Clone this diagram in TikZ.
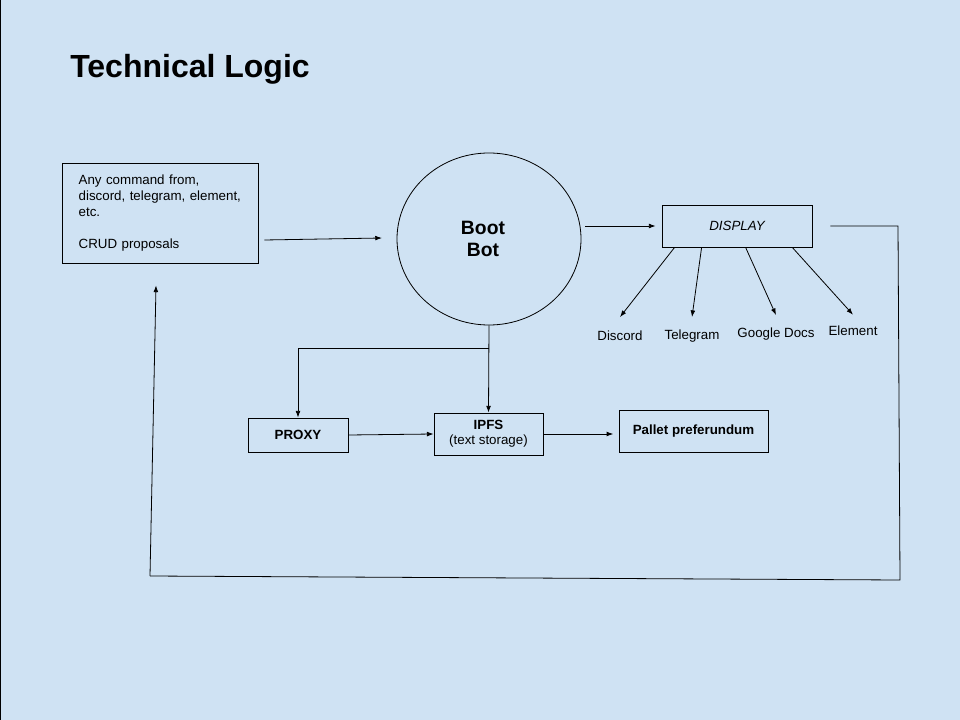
\documentclass[tikz,border=0pt]{standalone}
\usepackage{fontspec}
\setmainfont{Liberation Sans}
\usetikzlibrary{arrows.meta, positioning, shapes.geometric}
\definecolor{slidebg}{RGB}{207,226,243}

\begin{document}
\begin{tikzpicture}[x=0.75pt, y=-0.75pt,
    box/.style={draw, line width=0.6pt, inner sep=0pt},
    txt/.style={font=\fontsize{10}{12}\selectfont},
    arr/.style={-{Latex[length=5pt,width=3.6pt]}, line width=0.6pt},
    wire/.style={line width=0.6pt}]
    % Background and frame
    \fill[slidebg] (0,0) rectangle (960,720);
    \useasboundingbox (0,0) rectangle (960,720);
    \draw[line width=1pt] (0,0) -- (0,720);

    % Title
    \node[anchor=base west, inner sep=0pt, font=\fontsize{24}{28}\selectfont\bfseries] (title) at (70,78) {Technical Logic};

    % Main boxes
    \node[box, txt, minimum width=147pt, minimum height=75pt, text width=122pt, align=left] (cmd) at (160,213)
      {Any command from,\\discord, telegram, element,\\etc.\\[12pt]CRUD proposals};
    \node[draw, ellipse, line width=0.6pt, inner sep=0pt, minimum width=138pt, minimum height=129pt] (bot) at (489,239) {};
    \node[align=center, font=\fontsize{14.5}{16.5}\selectfont\bfseries] (botname) at (483,239) {Boot\\Bot};
    \node[box, txt, minimum width=112.5pt, minimum height=31.5pt, font=\fontsize{10}{12}\selectfont\itshape] (disp) at (737,226) {DISPLAY};

    % Display targets
    \node[txt] (dc) at (620,336) {Discord};
    \node[txt] (tg) at (692,336) {Telegram};
    \node[txt] (gd) at (776,334) {Google Docs};
    \node[txt] (el) at (853,331) {Element};

    % Lower row
    \node[box, txt, minimum width=75pt, minimum height=25.5pt, font=\fontsize{10}{12}\selectfont\bfseries] (proxy) at (298,435) {PROXY};
    \node[box, txt, minimum width=81.75pt, minimum height=31.5pt, align=center,
          font=\fontsize{10}{10.5}\selectfont] (ipfs) at (488.5,434) {\textbf{IPFS}\\[0.5pt](text storage)};
    \node[box, txt, minimum width=111.75pt, minimum height=31.5pt, font=\fontsize{10}{12}\selectfont\bfseries] (pallet) at (693.5,431) {Pallet preferundum};

    % Flow to and from the bot
    \draw[arr] ([xshift=4.5pt,yshift=-0.75pt]cmd.east |- bot.west) -- ([xshift=-11pt,yshift=0.75pt]bot.west);
    \draw[arr] ([xshift=3pt]bot.east |- disp.west) -- ([xshift=-4.5pt]disp.west);

    % Fan out of the display
    \draw[arr] ([xshift=9.75pt]disp.south west) -- ([yshift=7pt]dc.north);
    \draw[arr] ([xshift=30pt]disp.south west) -- ([yshift=6pt]tg.north);
    \draw[arr] ([xshift=63pt]disp.south west) -- ([yshift=6pt]gd.north);
    \draw[arr] ([xshift=98pt]disp.south west) -- ([yshift=5pt]el.north);

    % Storage branch
    \coordinate (split) at (489,348);
    \draw[arr] (bot.south) -- (ipfs.north);
    \draw[arr] (split) -| (proxy.north);
    \draw[arr] (proxy.east) -- (ipfs.west);
    \draw[arr] (ipfs.east) -- ([xshift=-4pt]ipfs.east -| pallet.west);

    % Feedback loop
    \coordinate (loopne) at (898,226);
    \coordinate (loopse) at (900,580);
    \coordinate (loopsw) at (150,576);
    \draw[wire] ([xshift=13.5pt]disp.east) -- (loopne) -- (loopse) -- (loopsw);
    \draw[arr] (loopsw) -- ([xshift=-3pt,yshift=-16.5pt]cmd.south);
  \end{tikzpicture}
\end{document}
